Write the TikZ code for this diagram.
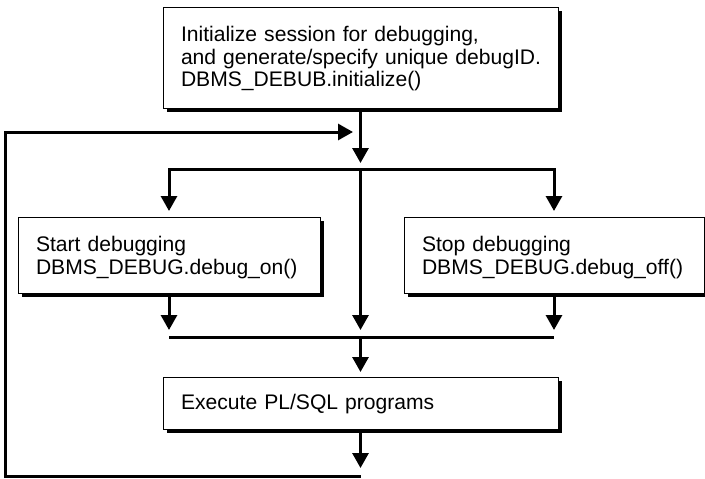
\documentclass[tikz,border=0pt]{standalone}
\usepackage{fontspec}
\setmainfont{Liberation Sans}
\usetikzlibrary{arrows.meta,shadows}
\begin{document}
\begin{tikzpicture}[x=1pt,y=1pt,
  box/.style={draw, line width=1pt, fill=white, rectangle, align=left,
    inner xsep=18pt, inner ysep=0pt, text height=15.4pt,
    general shadow={fill=black, shadow xshift=4pt, shadow yshift=-4pt}},
  conn/.style={line width=3pt},
  arr/.style={conn, -{Triangle[width=16pt,length=15pt]}},
]
\useasboundingbox (0,0) rectangle (705,-479);
\node[box, font=\fontsize{21.1}{22.4}\selectfont, text width=359pt, minimum height=101pt, text depth=47pt] (init) at (360.5,-57.5)
  {\mbox{Initialize session for debugging,}\\\mbox{and generate/specify unique debugID.}\\\mbox{DBMS\_DEBUB.initialize()}};
\node[box, font=\fontsize{21.1}{23}\selectfont, text width=266pt, minimum height=76pt, text depth=22pt] (start) at (169,-255)
  {\mbox{Start debugging}\\\mbox{DBMS\_DEBUG.debug\_on()}};
\node[box, font=\fontsize{21.1}{23}\selectfont, text width=264pt, minimum height=76pt, text depth=22pt] (stop) at (554,-255)
  {\mbox{Stop debugging}\\\mbox{DBMS\_DEBUG.debug\_off()}};
\node[box, font=\fontsize{21.1}{23}\selectfont, text width=359pt, minimum height=52pt, text depth=2.8pt] (exec) at (360.5,-403)
  {\mbox{Execute PL/SQL programs}};

\coordinate (split) at (init.south |- 0,-169);
\coordinate (merge) at (init.south |- 0,-337);
\coordinate (bot) at (init.south |- 0,-476.5);
\coordinate (lb) at (5,-476.5);
\coordinate (lt) at (5,-132);
\coordinate (loopin) at (init.south |- 0,-132);

\draw[arr, shorten >=6pt] (init.south) -- (split);
\draw[conn, {Triangle[width=16pt,length=15pt]}-{Triangle[width=16pt,length=15pt]},
  shorten <=5.5pt, shorten >=5.5pt] (start.north) |- (split) -| (stop.north);
\draw[arr, shorten >=7pt] (split) -- (merge);
\draw[conn] (start.south |- merge) -- (stop.south |- merge);
\draw[arr, shorten >=7pt] (start.south) -- (start.south |- merge);
\draw[arr, shorten >=7pt] (stop.south) -- (stop.south |- merge);
\draw[arr, shorten >=4.5pt] (merge) -- (exec.north);
\draw[arr, shorten >=8.5pt] (exec.south) -- (bot);
\draw[arr, shorten >=7.5pt] (bot) -- (lb) -- (lt) -- (loopin);
\end{tikzpicture}
\end{document}
